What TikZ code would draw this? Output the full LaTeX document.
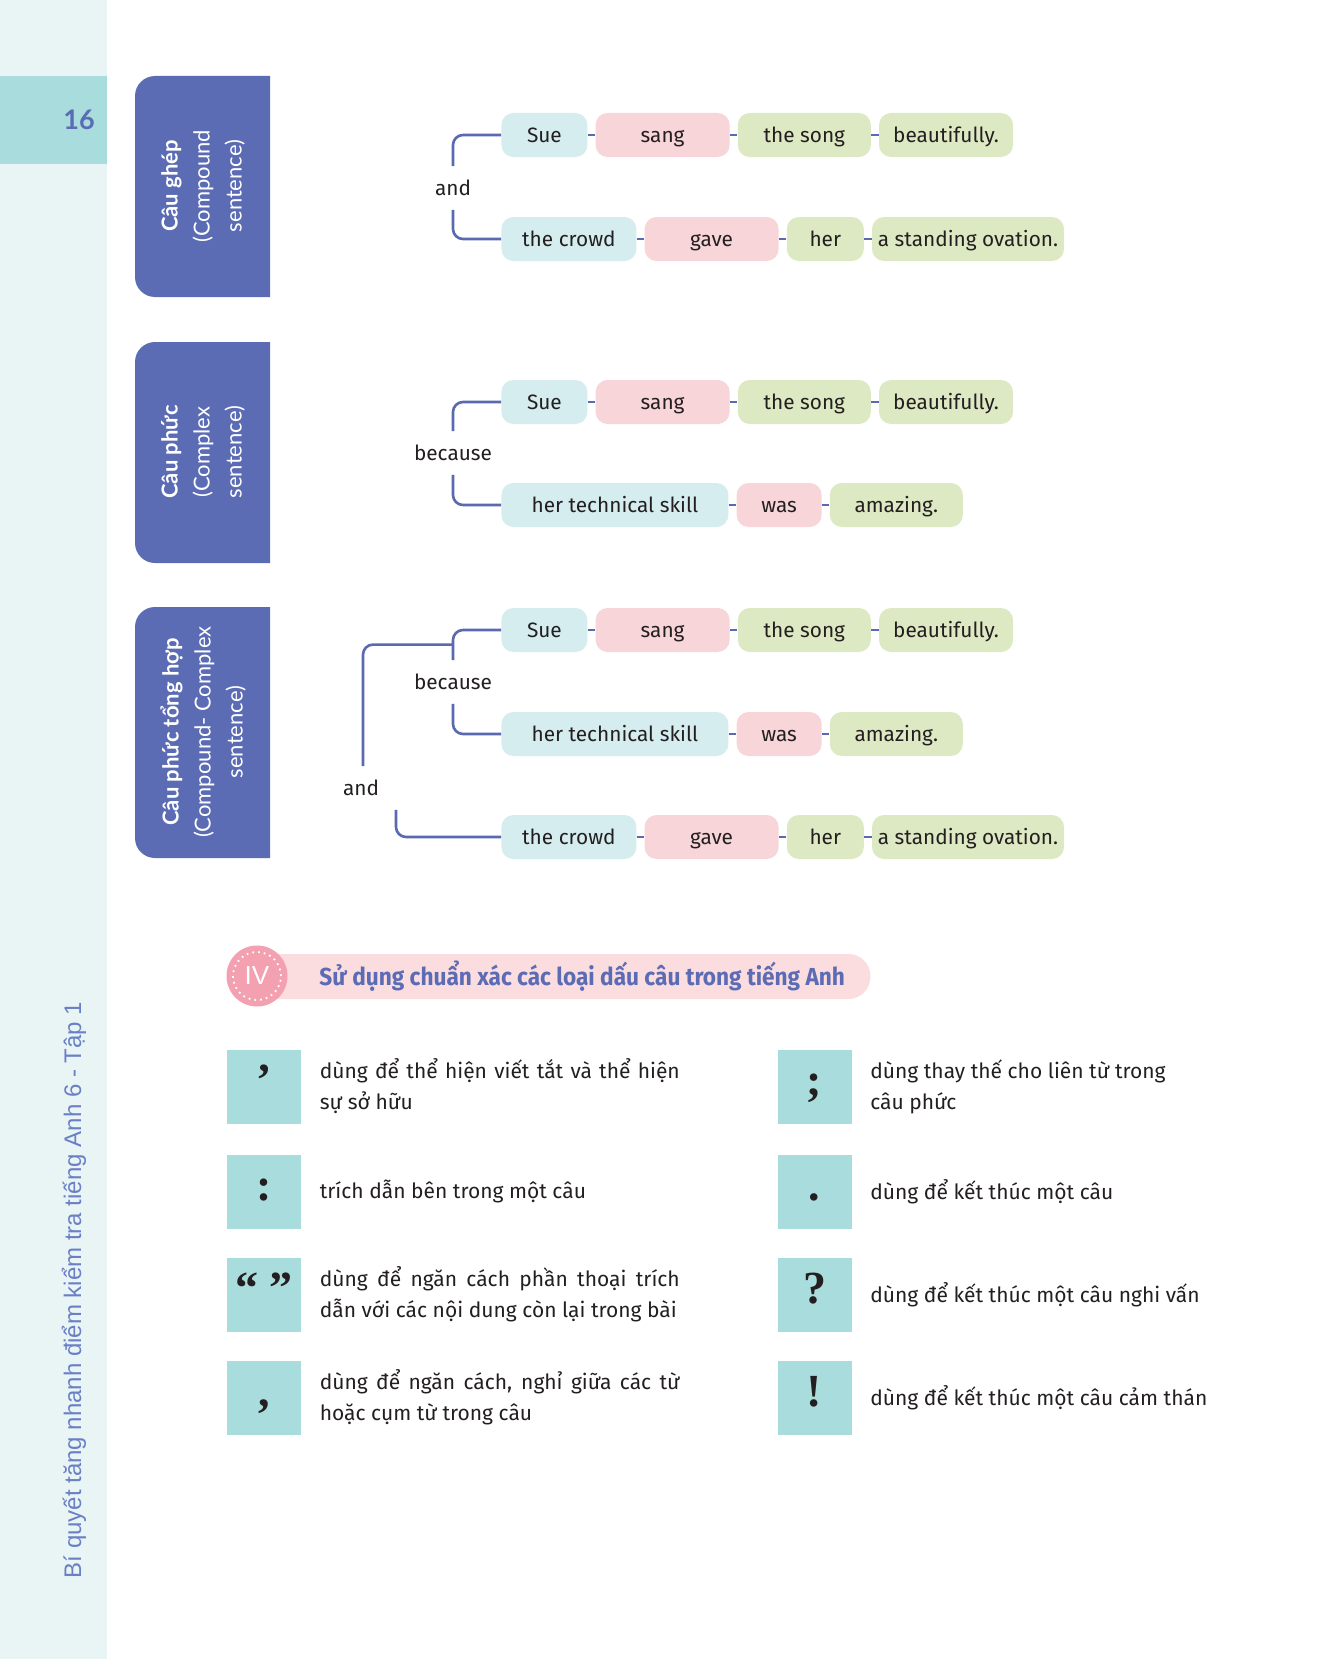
\documentclass[tikz,border=0pt]{standalone}
\usepackage{fontspec}
\setmainfont{Fira Sans}
\newfontfamily\labelfont{Lato}
\newfontfamily\sidefont{Liberation Sans}
\newfontfamily\titlefont[FakeStretch=0.92]{Fira Sans}
\newfontfamily\punctfont{Liberation Serif}
\usepackage{xcolor}
\usetikzlibrary{positioning, calc}
\definecolor{boxblue}{HTML}{5B6CB5}
\definecolor{lineblue}{HTML}{5A6AB0}
\definecolor{stripecyan}{HTML}{E9F5F5}
\definecolor{tabteal}{HTML}{A9DCDD}
\definecolor{chipcyan}{HTML}{D5EDEF}
\definecolor{chippink}{HTML}{F8D5D8}
\definecolor{chipgreen}{HTML}{DDE9C3}
\definecolor{barpink}{HTML}{FBDCDF}
\definecolor{badgepink}{HTML}{F3A0B1}
\definecolor{sideblue}{HTML}{6A7FC6}
\definecolor{ink}{HTML}{231F20}

\begin{document}
\begin{tikzpicture}[
    x=0.5pt, y=-0.5pt,
    node distance=3.7pt,
    chip/.style={
        rectangle, rounded corners=6pt, minimum height=22pt, inner sep=0pt,
        text height=9.4pt, text depth=2.2pt,
        text=ink, font=\fontsize{10.4}{12}\selectfont
    },
    subj/.style={chip, fill=chipcyan},
    verb/.style={chip, fill=chippink},
    objc/.style={chip, fill=chipgreen},
    conj/.style={minimum height=21.5pt, inner sep=0pt, text=ink, font=\fontsize{10.4}{12}\selectfont},
    link/.style={draw=lineblue, line width=1.3pt},
    bracket/.style={link, rounded corners=5pt},
    sidelabel/.style={rotate=90, align=center, text=white, font=\labelfont\fontsize{11}{16}\selectfont},
    pbox/.style={rectangle, fill=tabteal, minimum size=37pt, inner sep=0pt, text=ink,
        font=\punctfont\bfseries\fontsize{23}{22}\selectfont},
    ptext/.style={inner sep=0pt, text=ink, font=\fontsize{10.5}{15.5}\selectfont},
]
\useasboundingbox (0,0) rectangle (1317,1659);
\fill[white] (0,0) rectangle (1317,1659);

% ── Margin ──────────────────────────────────────────────────────────────
\fill[stripecyan] (0,0) rectangle (107,1659);
\fill[tabteal] (0,76) rectangle (107,164);
\node[font=\labelfont\bfseries\fontsize{13.5}{14}\selectfont, text=boxblue] (pagenum) at (79,120) {16};
\node[rotate=90, font=\sidefont\fontsize{12}{12}\selectfont, text=sideblue] (runner) at (74,1290)
    {Bí quyết tăng nhanh điểm kiểm tra tiếng Anh 6 - Tập 1};

% ── Side boxes ──────────────────────────────────────────────────────────
\fill[boxblue] (270,76) [rounded corners=10pt] -- (135,76) -- (135,297) [sharp corners] -- (270,297) -- cycle;
\fill[boxblue] (270,342) [rounded corners=10pt] -- (135,342) -- (135,563) [sharp corners] -- (270,563) -- cycle;
\fill[boxblue] (270,607) [rounded corners=10pt] -- (135,607) -- (135,858) [sharp corners] -- (270,858) -- cycle;
\node[sidelabel] (compound) at (203,186) {{\bfseries Câu ghép}\\(Compound\\sentence)};
\node[sidelabel] (complex) at (203,452) {{\bfseries Câu phức}\\(Complex\\sentence)};
\node[sidelabel] (compcomplex) at (203,732) {{\bfseries Câu phức tổng hợp}\\(Compound- Complex\\sentence)};

% ── Compound sentence ───────────────────────────────────────────────────
\node[subj, minimum width=43pt, anchor=west] (sue1) at (501,135) {Sue};
\node[verb, minimum width=67pt, right=of sue1] (sang1) {sang};
\node[objc, minimum width=66.5pt, right=of sang1] (song1) {the song};
\node[objc, minimum width=67pt, right=of song1] (adv1) {beautifully.};

\node[subj, minimum width=67.5pt, anchor=west] (crowd1) at (501,239) {the crowd};
\node[verb, minimum width=67pt, right=of crowd1] (gave1) {gave};
\node[objc, minimum width=38.5pt, right=of gave1] (her1) {her};
\node[objc, minimum width=96pt, right=of her1] (ovation1) {a standing ovation.};

\node[conj] (and1) at (453,188) {and};

\draw[link] (sue1) -- (sang1);
\draw[link] (sang1) -- (song1);
\draw[link] (song1) -- (adv1);
\draw[link] (crowd1) -- (gave1);
\draw[link] (gave1) -- (her1);
\draw[link] (her1) -- (ovation1);
\draw[bracket] (and1.north) |- (sue1);
\draw[bracket] (and1.south) |- (crowd1);

% ── Complex sentence ────────────────────────────────────────────────────
\node[subj, minimum width=43pt, anchor=west] (sue2) at (501,402) {Sue};
\node[verb, minimum width=67pt, right=of sue2] (sang2) {sang};
\node[objc, minimum width=66.5pt, right=of sang2] (song2) {the song};
\node[objc, minimum width=67pt, right=of song2] (adv2) {beautifully.};

\node[subj, minimum width=113.5pt, anchor=west] (skill2) at (501,505) {her technical skill};
\node[verb, minimum width=42.5pt, right=of skill2] (was2) {was};
\node[objc, minimum width=66.5pt, right=of was2] (amazing2) {amazing.};

\node[conj] (because2) at (453,453) {because};

\draw[link] (sue2) -- (sang2);
\draw[link] (sang2) -- (song2);
\draw[link] (song2) -- (adv2);
\draw[link] (skill2) -- (was2);
\draw[link] (was2) -- (amazing2);
\draw[bracket] (because2.north) |- (sue2);
\draw[bracket] (because2.south) |- (skill2);

% ── Compound-complex sentence ───────────────────────────────────────────
\node[subj, minimum width=43pt, anchor=west] (sue3) at (501,630) {Sue};
\node[verb, minimum width=67pt, right=of sue3] (sang3) {sang};
\node[objc, minimum width=66.5pt, right=of sang3] (song3) {the song};
\node[objc, minimum width=67pt, right=of song3] (adv3) {beautifully.};

\node[subj, minimum width=113.5pt, anchor=west] (skill3) at (501,734) {her technical skill};
\node[verb, minimum width=42.5pt, right=of skill3] (was3) {was};
\node[objc, minimum width=66.5pt, right=of was3] (amazing3) {amazing.};

\node[subj, minimum width=67.5pt, anchor=west] (crowd3) at (501,837) {the crowd};
\node[verb, minimum width=67pt, right=of crowd3] (gave3) {gave};
\node[objc, minimum width=38.5pt, right=of gave3] (her3) {her};
\node[objc, minimum width=96pt, right=of her3] (ovation3) {a standing ovation.};

\node[conj] (because3) at (453,682) {because};
\node[conj] (and3) at (361,788) {and};
\coordinate (join3) at ([yshift=7.75pt]because3.north);

\draw[link] (sue3) -- (sang3);
\draw[link] (sang3) -- (song3);
\draw[link] (song3) -- (adv3);
\draw[link] (skill3) -- (was3);
\draw[link] (was3) -- (amazing3);
\draw[link] (crowd3) -- (gave3);
\draw[link] (gave3) -- (her3);
\draw[link] (her3) -- (ovation3);
\draw[bracket] (because3.north) |- (sue3);
\draw[bracket] (because3.south) |- (skill3);
\draw[bracket] ([xshift=1pt]and3.north) |- (join3);
\draw[bracket] ([xshift=17.5pt]and3.south) |- (crowd3);

% ── Section IV heading ──────────────────────────────────────────────────
\node[fill=barpink, rounded corners=11pt, minimum width=321.5pt, minimum height=22.5pt,
      inner sep=0pt, anchor=west] (bar) at (227,976.5) {};
\node[circle, fill=badgepink, minimum size=30.5pt, inner sep=0pt] (badge) at (257,976) {};
\node[circle, draw=white, dotted, line width=0.9pt, minimum size=24pt, inner sep=0pt,
      text=white, font=\sidefont\fontsize{13}{13}\selectfont] (badgering) at (badge) {IV};
\node[anchor=west, inner sep=0pt, text=boxblue, font=\titlefont\bfseries\fontsize{12.3}{13}\selectfont]
    (title) at (319,976) {Sử dụng chuẩn xác các loại dấu câu trong tiếng Anh};

% ── Punctuation marks ───────────────────────────────────────────────────
\node[pbox] (apos) at (264,1086.5) {\strut’};
\node[pbox] (colon) at (264,1191.5) {\strut:};
\node[pbox] (quotes) at (264,1294.5) {\strut“ ”};
\node[pbox] (comma) at (264,1397.5) {\strut,};
\node[pbox] (semicolon) at (814.5,1086.5) {\strut;};
\node[pbox] (period) at (814.5,1191.5) {\strut.};
\node[pbox] (question) at (814.5,1294.5) {\strut?};
\node[pbox] (exclaim) at (814.5,1397.5) {\strut!};

\node[ptext, text width=180pt, align=justify, right=9pt of apos] (apostxt)
    {dùng để thể hiện viết tắt và thể hiện\linebreak sự sở hữu};
\node[ptext, right=9pt of colon] (colontxt) {trích dẫn bên trong một câu};
\node[ptext, text width=180pt, align=justify, right=9pt of quotes] (quotestxt)
    {dùng để ngăn cách phần thoại trích\linebreak dẫn với các nội dung còn lại trong bài};
\node[ptext, text width=180pt, align=justify, right=9pt of comma] (commatxt)
    {dùng để ngăn cách, nghỉ giữa các từ\linebreak hoặc cụm từ trong câu};
\node[ptext, align=left, right=9pt of semicolon] (semicolontxt)
    {dùng thay thế cho liên từ trong\\câu phức};
\node[ptext, right=9pt of period] (periodtxt) {dùng để kết thúc một câu};
\node[ptext, right=9pt of question] (questiontxt) {dùng để kết thúc một câu nghi vấn};
\node[ptext, right=9pt of exclaim] (exclaimtxt) {dùng để kết thúc một câu cảm thán};

\end{tikzpicture}
\end{document}
